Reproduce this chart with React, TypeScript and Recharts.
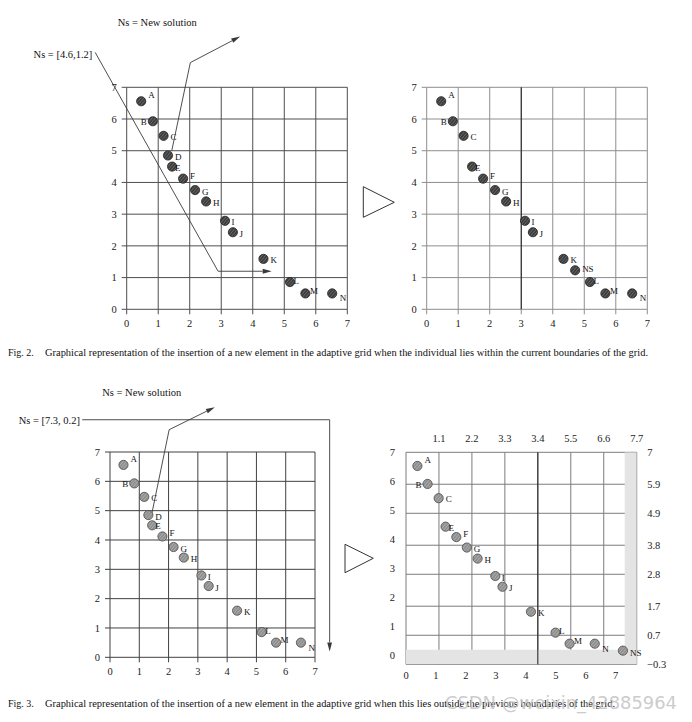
import React from "react";
import {
  CartesianGrid,
  ReferenceArea,
  ReferenceLine,
  Scatter,
  ScatterChart,
  XAxis,
  YAxis,
} from "recharts";

const SERIF = '"Liberation Serif", "Times New Roman", serif';

const names = ["A", "B", "C", "D", "E", "F", "G", "H", "I", "J", "K", "L", "M", "N"];
const gridX = [0.46, 0.83, 1.17, 1.31, 1.44, 1.79, 2.17, 2.52, 3.12, 3.37, 4.34, 5.18, 5.67, 6.52];
const gridY = [6.56, 5.93, 5.47, 4.85, 4.5, 4.12, 3.76, 3.4, 2.79, 2.43, 1.59, 0.86, 0.5, 0.5];

// Fig. 2 right panel: D is dropped, the new solution goes in
const fig2NewX = 4.71;
const fig2NewY = 1.23;

// Fig. 3 right panel, re-read on the rescaled grid
const fig3Names = ["A", "B", "C", "E", "F", "G", "H", "I", "J", "K", "L", "M", "N", "NS"];
const fig3X = [0.38, 0.72, 1.09, 1.32, 1.68, 2.03, 2.39, 2.98, 3.22, 4.17, 4.99, 5.46, 6.3, 7.24];
const fig3Y = [6.53, 5.91, 5.42, 4.44, 4.08, 3.72, 3.34, 2.74, 2.37, 1.51, 0.79, 0.41, 0.41, 0.17];

const unitTicks = [0, 1, 2, 3, 4, 5, 6, 7];
const fig3TopTicks = [1.1, 2.2, 3.3, 4.4, 5.5, 6.6, 7.7];
const fig3TopLabels = ["1.1", "2.2", "3.3", "3.4", "5.5", "6.6", "7.7"];
const fig3RightTicks = [-0.3, 0.7, 1.7, 2.8, 3.8, 4.9, 5.9, 7];
const fig3RightLabels = ["\u22120.3", "0.7", "1.7", "2.8", "3.8", "4.9", "5.9", "7"];

// annotation arrows, in data units of the left panels
const fig2EntryPath = [[-1.0, 8.1], [2.9, 1.2], [4.6, 1.2]];
const fig2LegendPath = [[1.43, 5.0], [2.02, 7.78], [3.6, 8.6]];
const fig3EntryPath = [[-0.95, 8.1], [7.5, 8.1], [7.5, 0.2]];
const fig3LegendPath = [[1.42, 4.86], [2.02, 7.76], [3.58, 8.53]];

type Pt = { name: string; x: number; y: number };

const fig2Before: Pt[] = names.map((n, i) => ({ name: n, x: gridX[i], y: gridY[i] }));
const fig2After: Pt[] = [
  ...fig2Before.filter((p) => p.name !== "D"),
  { name: "NS", x: fig2NewX, y: fig2NewY },
];
const fig3After: Pt[] = fig3Names.map((n, i) => ({ name: n, x: fig3X[i], y: fig3Y[i] }));

// where each letter sits relative to its dot (px)
const labelPlacement: Record<string, [number, number, "start" | "end"]> = {
  A: [7, -6, "start"],
  B: [-6, 1, "end"],
  C: [7, 1, "start"],
  D: [7, 2, "start"],
  E: [3, 1, "start"],
  F: [7, -3, "start"],
  G: [7, 1.5, "start"],
  H: [7, 1.5, "start"],
  I: [6.5, 1.5, "start"],
  J: [6.5, 1.5, "start"],
  K: [7, 1.5, "start"],
  L: [3.5, -1.5, "start"],
  M: [4.5, -2.5, "start"],
  N: [7.5, 5, "start"],
  NS: [7, -1.5, "start"],
};

type Tone = { id: string; base: string; stripe: string; edge: string };
const darkDot: Tone = { id: "hatch-dark", base: "#3c3c3c", stripe: "#8a8a8a", edge: "#222" };
const lightDot: Tone = { id: "hatch-light", base: "#8e8e8e", stripe: "#c8c8c8", edge: "#4a4a4a" };

function dotShape(tone: Tone, nsShift?: [number, number]) {
  return (props: any) => {
    const { cx, cy, payload } = props;
    if (cx == null || cy == null || !payload) return <g />;
    let [dx, dy, anchor] = labelPlacement[payload.name] ?? [7, 0, "start"];
    if (nsShift && payload.name === "NS") [dx, dy] = nsShift;
    return (
      <g>
        <defs>
          <pattern
            id={tone.id}
            width={2.4}
            height={2.4}
            patternUnits="userSpaceOnUse"
            patternTransform="rotate(40)"
          >
            <rect width={2.4} height={2.4} fill={tone.base} />
            <line x1={0} y1={0} x2={0} y2={2.4} stroke={tone.stripe} strokeWidth={0.9} />
          </pattern>
        </defs>
        <circle cx={cx} cy={cy} r={4.6} fill={`url(#${tone.id})`} stroke={tone.edge} strokeWidth={0.8} />
        <text
          x={cx + dx}
          y={cy + dy}
          textAnchor={anchor}
          dominantBaseline="central"
          fontFamily={SERIF}
          fontSize={9}
          fill="#111"
        >
          {payload.name}
        </text>
      </g>
    );
  };
}

// keeps an extra axis pair alive without drawing anything
const noMark = () => <g />;

function ArrowLine(props: any) {
  const { x1, y1, x2, y2, head, color } = props;
  if (![x1, y1, x2, y2].every((v) => Number.isFinite(v))) return <g />;
  const ang = Math.atan2(y2 - y1, x2 - x1);
  const len = 9;
  const half = 2.4;
  const bx = x2 - len * Math.cos(ang);
  const by = y2 - len * Math.sin(ang);
  const px = -Math.sin(ang) * half;
  const py = Math.cos(ang) * half;
  return (
    <g>
      <line x1={x1} y1={y1} x2={head ? bx : x2} y2={head ? by : y2} stroke={color} strokeWidth={0.9} />
      {head && (
        <polygon points={`${x2},${y2} ${bx + px},${by + py} ${bx - px},${by - py}`} fill={color} />
      )}
    </g>
  );
}

function arrowPath(path: number[][], color: string) {
  return path.slice(1).map((pt, i) => {
    const from = path[i];
    const last = i === path.length - 2;
    return (
      <ReferenceLine
        key={`seg-${i}`}
        segment={[
          { x: from[0], y: from[1] },
          { x: pt[0], y: pt[1] },
        ]}
        ifOverflow="visible"
        stroke={color}
        shape={(p: any) => <ArrowLine {...p} head={last} color={color} />}
      />
    );
  });
}

const tickFont = { fontSize: 10.5, fontFamily: SERIF, fill: "#222" };

type Frame = { left: number; top: number; width: number; height: number };

function UnitPanel({
  frame,
  plotLeft,
  plotTop,
  plotSize,
  data,
  tone,
  gridColor,
  darkX,
  children,
}: {
  frame: Frame;
  plotLeft: number;
  plotTop: number;
  plotSize: [number, number];
  data: Pt[];
  tone: Tone;
  gridColor: string;
  darkX?: number;
  children?: React.ReactNode;
}) {
  const yAxisW = 30;
  const xAxisH = 20;
  const margin = {
    left: plotLeft - frame.left - yAxisW,
    top: plotTop - frame.top,
    right: frame.left + frame.width - (plotLeft + plotSize[0]),
    bottom: frame.top + frame.height - (plotTop + plotSize[1]) - xAxisH,
  };
  return (
    <div style={{ position: "absolute", left: frame.left, top: frame.top }}>
      <ScatterChart width={frame.width} height={frame.height} margin={margin}>
        <CartesianGrid stroke={gridColor} strokeWidth={1} />
        <XAxis
          type="number"
          dataKey="x"
          domain={[0, 7]}
          ticks={unitTicks}
          interval={0}
          height={xAxisH}
          axisLine={false}
          tickSize={5}
          tickMargin={5}
          stroke={gridColor}
          tick={tickFont}
        />
        <YAxis
          type="number"
          dataKey="y"
          domain={[0, 7]}
          ticks={unitTicks}
          interval={0}
          width={yAxisW}
          axisLine={false}
          tickSize={5}
          tickMargin={5}
          stroke={gridColor}
          tick={tickFont}
        />
        {darkX != null && <ReferenceLine x={darkX} stroke="#1a1a1a" strokeWidth={1} />}
        {children}
        <Scatter data={data} isAnimationActive={false} shape={dotShape(tone)} />
      </ScatterChart>
    </div>
  );
}

function RescaledPanel() {
  const frame: Frame = { left: 360, top: 420, width: 332, height: 268 };
  const plotLeft = 406;
  const plotTop = 452.3;
  const plotW = 230.7;
  const plotH = 212;
  const margin = {
    left: plotLeft - frame.left - 30,
    top: plotTop - frame.top - 20,
    right: frame.left + frame.width - (plotLeft + plotW) - 40,
    bottom: frame.top + frame.height - (plotTop + plotH) - 20,
  };
  const gridColor = "#7c7c7c";
  return (
    <div style={{ position: "absolute", left: frame.left, top: frame.top }}>
      <ScatterChart width={frame.width} height={frame.height} margin={margin}>
        <ReferenceArea x1={7.3} x2={7.7} fill="#e4e4e4" fillOpacity={1} stroke="none" ifOverflow="hidden" />
        <ReferenceArea y1={-0.3} y2={0.2} fill="#e4e4e4" fillOpacity={1} stroke="none" ifOverflow="hidden" />
        <CartesianGrid stroke={gridColor} strokeWidth={1} />
        <XAxis
          type="number"
          dataKey="x"
          orientation="top"
          domain={[0, 7.7]}
          ticks={fig3TopTicks}
          interval={0}
          height={20}
          axisLine={false}
          tickLine={false}
          tickSize={5}
          tickMargin={5}
          tick={tickFont}
          tickFormatter={(v: number) => fig3TopLabels[fig3TopTicks.indexOf(v)] ?? ""}
        />
        <XAxis
          type="number"
          xAxisId="bottom"
          dataKey="x"
          orientation="bottom"
          domain={[0, 7.7]}
          ticks={unitTicks}
          interval={0}
          height={20}
          axisLine={false}
          tickLine={false}
          tickSize={5}
          tickMargin={2}
          tick={tickFont}
        />
        <YAxis
          type="number"
          dataKey="y"
          orientation="right"
          domain={[-0.3, 7]}
          ticks={fig3RightTicks}
          interval={0}
          width={40}
          axisLine={false}
          tickLine={false}
          tickSize={5}
          tickMargin={5.5}
          tick={{ ...tickFont, textAnchor: "start" }}
          tickFormatter={(v: number) => fig3RightLabels[fig3RightTicks.indexOf(v)] ?? ""}
        />
        <YAxis
          type="number"
          yAxisId="left"
          dataKey="y"
          orientation="left"
          domain={[-0.3, 7]}
          ticks={unitTicks}
          interval={0}
          width={30}
          axisLine={false}
          tickLine={false}
          tickSize={5}
          tickMargin={6}
          tick={tickFont}
        />
        <ReferenceLine x={4.4} stroke="#1a1a1a" strokeWidth={1} />
        <Scatter
          data={fig3After}
          xAxisId="bottom"
          yAxisId="left"
          isAnimationActive={false}
          shape={noMark}
        />
        <Scatter data={fig3After} isAnimationActive={false} shape={dotShape(lightDot, [7, 2])} />
      </ScatterChart>
    </div>
  );
}

const fig2Caption =
  "Graphical representation of the insertion of a new element in the adaptive grid when the individual lies within the current boundaries of the grid.";
const fig3Caption =
  "Graphical representation of the insertion of a new element in the adaptive grid when this lies outside the previous boundaries of the grid.";

export default function App() {
  const arrowColor = "#3a3a3a";
  return (
    <div
      style={{
        position: "absolute",
        left: 0,
        top: 0,
        width: 692,
        height: 722,
        background: "#fff",
        overflow: "hidden",
      }}
    >
      <UnitPanel
        frame={{ left: 0, top: 0, width: 360, height: 335 }}
        plotLeft={126.7}
        plotTop={87.3}
        plotSize={[220.6, 222]}
        data={fig2Before}
        tone={darkDot}
        gridColor="#4e4e4e"
      >
        {arrowPath(fig2EntryPath, arrowColor)}
        {arrowPath(fig2LegendPath, arrowColor)}
      </UnitPanel>

      <UnitPanel
        frame={{ left: 380, top: 60, width: 312, height: 275 }}
        plotLeft={426.7}
        plotTop={87.3}
        plotSize={[220.6, 222]}
        data={fig2After}
        tone={darkDot}
        gridColor="#8e8e8e"
        darkX={3}
      />

      <UnitPanel
        frame={{ left: 0, top: 380, width: 345, height: 300 }}
        plotLeft={110}
        plotTop={452}
        plotSize={[205, 205.3]}
        data={fig2Before}
        tone={lightDot}
        gridColor="#404040"
      >
        {arrowPath(fig3EntryPath, arrowColor)}
        {arrowPath(fig3LegendPath, arrowColor)}
      </UnitPanel>

      <RescaledPanel />

      <svg
        width={692}
        height={722}
        style={{ position: "absolute", left: 0, top: 0, pointerEvents: "none" }}
        fontFamily={SERIF}
      >
        <text x={157.3} y={25.6} textAnchor="middle" fontSize={10.5} fill="#111">
          Ns = New solution
        </text>
        <text x={92.3} y={57.6} textAnchor="end" fontSize={10.5} fill="#111">
          Ns = [4.6,1.2]
        </text>
        <text x={141.8} y={396.4} textAnchor="middle" fontSize={10.5} fill="#111">
          Ns = New solution
        </text>
        <text x={80} y={423.7} textAnchor="end" fontSize={10.5} fill="#111">
          Ns = [7.3, 0.2]
        </text>

        <polygon
          points="363.3,186.7 394.3,202.3 363.3,217.3"
          fill="#fff"
          stroke="#333"
          strokeWidth={1}
        />
        <polygon
          points="345,544.3 373.3,558.3 345,572.7"
          fill="#fff"
          stroke="#333"
          strokeWidth={1}
        />

        <text x={8} y={355.5} fontSize={10} fill="#111">
          Fig. 2.
        </text>
        <text x={45} y={355.5} fontSize={10} fill="#111" textLength={603} lengthAdjust="spacingAndGlyphs">
          {fig2Caption}
        </text>
        <text x={8} y={706.5} fontSize={10} fill="#111">
          Fig. 3.
        </text>
        <text x={45} y={706.5} fontSize={10} fill="#111" textLength={570} lengthAdjust="spacingAndGlyphs">
          {fig3Caption}
        </text>
        <text
          x={445}
          y={709}
          fontSize={17}
          fontFamily='"DejaVu Sans", sans-serif'
          fill="#c4c4c4"
          opacity={0.85}
          textLength={232}
          lengthAdjust="spacingAndGlyphs"
        >
          CSDN @weixin_42885964
        </text>
      </svg>
    </div>
  );
}
